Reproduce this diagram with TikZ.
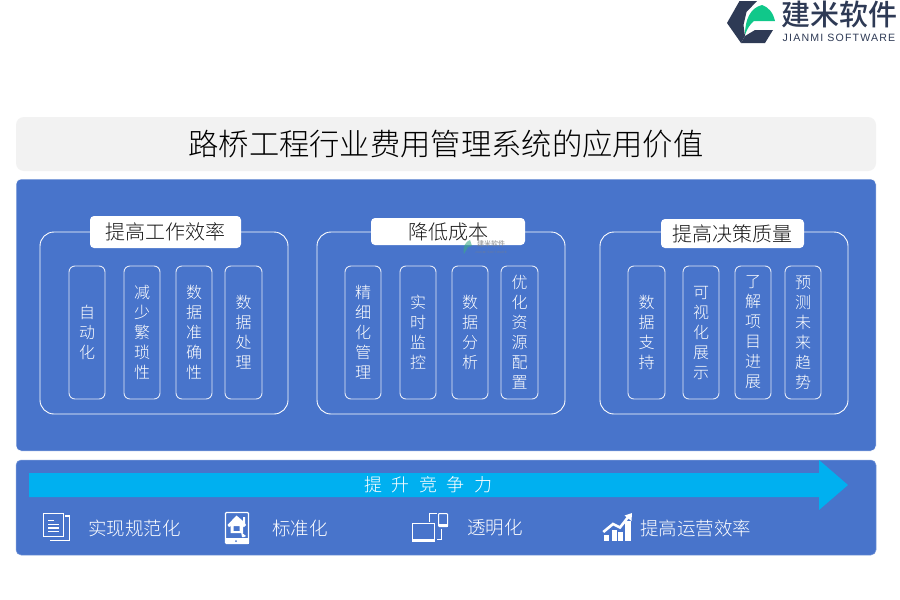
\documentclass[tikz,border=0pt]{standalone}
\usepackage{fontspec}
\setmainfont{Noto Sans CJK SC}[UprightFont=* Light]
\newfontfamily\latinfont{Liberation Sans}[LetterSpace=11]
\newfontfamily\logofont{Noto Sans CJK SC}[UprightFont=* Medium]
\definecolor{panel}{HTML}{4874CB}
\definecolor{titlebg}{HTML}{F2F2F2}
\definecolor{arrowblue}{HTML}{00B0F0}
\definecolor{logodark}{HTML}{2E3A55}
\definecolor{logogreen}{HTML}{10C88A}
\tikzset{
  panelbox/.style={draw=#1!70!white,line width=.5pt,fill=panel,rounded corners=5pt},
  panelbox/.default=panel,
  frame/.style={draw=white,line width=.9pt,rounded corners=14pt},
  tag/.style={fill=white,rounded corners=4pt,anchor=center,inner sep=0pt,font=\fontsize{20}{20}\selectfont,text=black!90},
  bar/.style={draw=white!85!panel,line width=.9pt,rounded corners=6pt,text=white,align=center,inner sep=0pt,
     minimum height=133pt,font=\fontsize{16}{20}\selectfont},
  caption/.style={text=white,anchor=west,inner sep=0pt,font=\fontsize{18.5}{20}\selectfont},
  icon/.style={draw=white,line width=1pt,fill=none}
}
\newcommand{\mkbar}[4]{\node[bar,minimum width=#2pt-#1pt] (#3) at ({(#1+#2)/2},332.5) {#4};}
\begin{document}
\begin{tikzpicture}[x=1pt,y=-1pt]
\useasboundingbox (0,0) rectangle (900,600);
\fill[white] (0,0) rectangle (900,600);

% logo
\fill[logodark] (727,23) -- (739.5,1) -- (757,1) -- (746.5,12) -- (743.5,25) -- (745,36) -- (741,43) -- cycle;
\fill[logodark] (741,43) -- (745,36) -- (755,30) -- (773,30) -- (765,43) -- cycle;
\fill[logogreen] (745,35) .. controls (745,20) and (750,8) .. (762,5) .. controls (768,7) and (773,12) .. (775,21) -- (754,21) .. controls (750,24) and (747,29) .. (745,35) -- cycle;
\node[inner sep=0pt,text=logodark,font=\logofont\fontsize{29}{30}\selectfont] (logocn) at (839.5,14) {建米软件};
\node[inner sep=0pt,text=logodark,font=\latinfont\fontsize{10.6}{12}\selectfont] (logoen) at (839,38) {JIANMI SOFTWARE};

% title
\node[fill=titlebg,rounded corners=8pt,minimum width=860pt,minimum height=54pt,inner sep=0pt,
  text=black,font=\fontsize{30.3}{32}\selectfont] (title) at (446,144) {路桥工程行业费用管理系统的应用价值};

% panels
\node[panelbox=white,minimum width=860pt,minimum height=272pt,inner sep=0pt] (main) at (446,315) {};
\node[panelbox,minimum width=860pt,minimum height=95pt,inner sep=0pt] (bottom) at (446,507.5) {};

% groups
\node[frame,minimum width=248pt,minimum height=182pt,inner sep=0pt] (g1) at (164,323) {};
\node[frame,minimum width=248pt,minimum height=182pt,inner sep=0pt] (g2) at (441,323) {};
\node[frame,minimum width=248pt,minimum height=182pt,inner sep=0pt] (g3) at (724,323) {};
\node[tag,minimum width=151pt,minimum height=32pt] (t1) at (165.5,232) {提高工作效率};
\node[tag,minimum width=154pt,minimum height=27pt] (t2) at (448,231.5) {降低成本};
\node[tag,minimum width=143pt,minimum height=29pt] (t3) at (732.5,233.5) {提高决策质量};

% watermark
\fill[logogreen!60!gray,opacity=.6] (464,254) .. controls (462,247) and (466,241) .. (470,240) -- (472,246) -- (468,247) -- cycle;
\node[inner sep=0pt,text=gray,opacity=.75,font=\logofont\fontsize{7}{8}\selectfont] (wm) at (491,243.5) {建米软件};
\node[inner sep=0pt,text=gray,opacity=.6,font=\latinfont\fontsize{3}{4}\selectfont] (wm2) at (491,252) {JIANMI SOFTWARE};

% bars
\mkbar{69}{105}{a1}{自\\动\\化}
\mkbar{124}{160}{a2}{减\\少\\繁\\琐\\性}
\mkbar{176}{212}{a3}{数\\据\\准\\确\\性}
\mkbar{225}{262}{a4}{数\\据\\处\\理}
\mkbar{345}{381}{b1}{精\\细\\化\\管\\理}
\mkbar{400}{436}{b2}{实\\时\\监\\控}
\mkbar{452}{488}{b3}{数\\据\\分\\析}
\mkbar{501}{538}{b4}{优\\化\\资\\源\\配\\置}
\mkbar{628}{665}{c1}{数\\据\\支\\持}
\mkbar{683}{719}{c2}{可\\视\\化\\展\\示}
\mkbar{735}{771}{c3}{了\\解\\项\\目\\进\\展}
\mkbar{785}{821}{c4}{预\\测\\未\\来\\趋\\势}

% arrow
\fill[arrowblue] (29,473) -- (819,473) -- (819,460) -- (848,485) -- (819,510) -- (819,497) -- (29,497) -- cycle;
\node[text=white,inner sep=0pt,font=\fontsize{18}{20}\selectfont] (up) at (428.5,485) {\spaceskip=9.5pt\relax 提 升 竞 争 力};

% captions
\node[caption] (c-a) at (88,528) {实现规范化};
\node[caption] (c-b) at (272,528) {标准化};
\node[caption] (c-c) at (467,528) {透明化};
\node[caption] (c-d) at (640,528) {提高运营效率};

% document icon
\draw[icon,line width=1.4pt] (43.7,513.7) rectangle (63.3,536.5);
\draw[icon,line width=1.2pt] (65,516) -- (69.3,516) -- (69.3,540.5) -- (50,540.5);
\draw[white,line width=1.5pt] (48,520.5) -- (54,520.5) (48,524.5) -- (59,524.5) (48,528) -- (59,528) (48,531.5) -- (59,531.5);

% tablet icon
\draw[icon,rounded corners=1pt,line width=1.3pt] (225.5,512.5) rectangle (248.5,543.5);
\fill[white] (225.5,538) rectangle (248.5,543.5);
\fill[panel] (236,541) circle (1pt);
\fill[white,even odd rule] (227.5,525) -- (236.5,515.5) -- (243,521) -- (243,517) -- (245,517) -- (245,523) -- (246,525) -- (244,527) -- (243,526) -- (243,533) -- (230.5,533) -- (230.5,526) -- (229,527) -- cycle
  (233.5,526) rectangle (239.5,531);
\fill[white] (241,532) -- (246,536) -- (244,537) -- (242,537) -- cycle;

% screens icon
\draw[icon,line width=.9pt] (412.7,523.5) rectangle (434.3,539);
\fill[white] (412,539) rectangle (435,541.5);
\draw[icon] (429.3,521.5) -- (429.3,513.5) -- (436.5,513.5);
\draw[icon,rounded corners=.8pt] (438.5,513.5) rectangle (447.5,526.5);
\fill[white] (438.5,523.5) rectangle (447.5,526.5);
\draw[icon] (441.7,528.5) -- (441.7,539) -- (436.5,539);

% chart icon
\fill[white] (604,534.5) rectangle (609.3,541);
\fill[white] (611.8,529.5) rectangle (617,541);
\fill[white] (618.3,532) rectangle (623,541);
\fill[white] (625.3,520.5) rectangle (630.7,541);
\draw[white,line width=2.6pt] (603.3,532) -- (613,524) -- (620,527.5) -- (629,516);
\fill[white] (632,513) -- (631.5,521) -- (624.5,515.5) -- cycle;
\end{tikzpicture}
\end{document}
